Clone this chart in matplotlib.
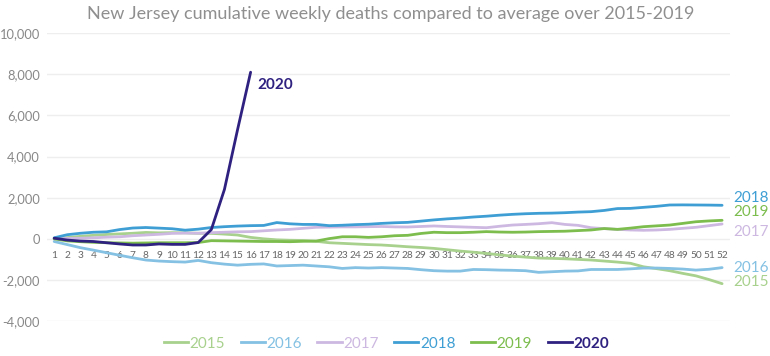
import matplotlib
matplotlib.use("Agg")
import matplotlib.pyplot as plt
from matplotlib.lines import Line2D

plt.rcParams['font.family'] = ['Lato', 'DejaVu Sans']

weeks = list(range(1, 53))

y2015 = [0, 60, 120, 170, 210, 240, 270, 310, 290, 300, 290, 270, 265, 230, 185, 70,
         0, -50, -70, -80, -120, -190, -220, -250, -280, -300, -340, -385, -420, -465,
         -530, -595, -650, -710, -780, -840, -890, -935, -950, -970, -1000, -1030,
         -1080, -1130, -1190, -1360, -1450, -1550, -1680, -1800, -1980, -2180]
y2016 = [-130, -280, -430, -550, -675, -800, -920, -1030, -1080, -1110, -1130, -1050,
         -1160, -1230, -1280, -1240, -1220, -1320, -1300, -1280, -1320, -1360, -1440,
         -1400, -1420, -1400, -1420, -1440, -1500, -1550, -1570, -1570, -1490, -1500,
         -1520, -1530, -1550, -1630, -1600, -1570, -1560, -1490, -1490, -1490, -1460,
         -1420, -1420, -1440, -1470, -1520, -1480, -1400]
y2017 = [0, 20, 30, 50, 80, 100, 150, 185, 220, 265, 280, 270, 300, 320, 340, 350,
         390, 430, 460, 510, 560, 570, 580, 580, 590, 600, 580, 575, 600, 625, 600,
         580, 560, 540, 610, 670, 700, 735, 785, 700, 655, 540, 495, 460, 430, 415,
         430, 460, 510, 560, 640, 720]
y2018 = [50, 200, 270, 320, 340, 450, 525, 550, 520, 490, 420, 470, 550, 590, 620,
         640, 650, 790, 730, 700, 700, 640, 660, 690, 710, 750, 780, 800, 860, 920,
         970, 1010, 1060, 1100, 1150, 1190, 1220, 1240, 1250, 1270, 1300, 1320, 1380,
         1470, 1480, 1530, 1580, 1645, 1650, 1645, 1640, 1630]
y2019 = [0, -100, -140, -170, -190, -200, -210, -200, -190, -190, -190, -180, -90,
         -100, -110, -120, -130, -130, -140, -120, -110, 10, 100, 100, 70, 100, 150,
         170, 260, 320, 300, 300, 320, 350, 330, 320, 330, 350, 360, 370, 400, 430,
         500, 460, 520, 590, 630, 670, 750, 830, 870, 900]
weeks2020 = list(range(1, 17))
y2020 = [30, -60, -110, -130, -190, -250, -300, -300, -250, -270, -270, -180, 450,
         2400, 5300, 8100]

years = ['2015', '2016', '2017', '2018', '2019', '2020']
colors = ['#a8d18d', '#84c1e3', '#cdb8e1', '#3f9fd4', '#7cbd4e', '#2e2180']
yticks = [-4000, -2000, 0, 2000, 4000, 6000, 8000, 10000]
title = "New Jersey cumulative weekly deaths compared to average over 2015-2019"

fig = plt.figure(figsize=(7.7, 3.56), dpi=100)
ax = fig.add_axes([0.061, 0.098, 0.887, 0.809])

series = [(weeks, y2015), (weeks, y2016), (weeks, y2017), (weeks, y2018),
          (weeks, y2019), (weeks2020, y2020)]
for (x, y), c in zip(series, colors):
    ax.plot(x, y, color=c, lw=2.0, solid_capstyle='round', solid_joinstyle='round')

ax.set_xlim(0.45, 52.6)
ax.set_ylim(-4000, 10000)
ax.set_yticks(yticks)
ax.set_yticklabels([f"{v:,}" for v in yticks])
ax.grid(axis='y', color='#eeeeee', lw=1)
ax.set_axisbelow(True)
for s in ['top', 'right', 'left']:
    ax.spines[s].set_visible(False)
ax.spines['bottom'].set_position(('data', 0))
ax.spines['bottom'].set_visible(False)
ax.set_xticks(weeks)
ax.set_xticklabels([str(w) for w in weeks])
ax.tick_params(axis='x', length=0, pad=9, labelsize=7.3, labelcolor='#666666')
ax.tick_params(axis='y', length=0, pad=5, labelsize=9.3, labelcolor='#888888')

# end labels
offsets = {'2015': 1, '2016': 0, '2017': -6, '2018': 5, '2019': 6}
for i, (yr, c) in enumerate(zip(years[:5], colors[:5])):
    x, y = series[i]
    ax.annotate(yr, xy=(x[-1], y[-1]), xytext=(8, offsets[yr]),
                textcoords='offset points', color=c, fontsize=11,
                va='center', ha='left', annotation_clip=False)
ax.annotate('2020', xy=(weeks2020[-1], y2020[-1]), xytext=(5, -9),
            textcoords='offset points', color=colors[5], fontsize=11,
            fontweight='bold', va='center', ha='left')

fig.text(0.507, 0.96, title, ha='center', va='center', fontsize=13,
         color='#8f8f8f', fontweight='normal')

handles = [Line2D([], [], color=c, lw=2.0) for c in colors]
leg = fig.legend(handles, years, loc='center', bbox_to_anchor=(0.502, 0.035),
                 ncol=6, frameon=False, fontsize=11, handlelength=1.6,
                 handletextpad=0.1, columnspacing=1.0)
for t, c in zip(leg.get_texts(), colors):
    t.set_color(c)
leg.get_texts()[5].set_fontweight('bold')

fig.savefig('out.png', dpi=100)
